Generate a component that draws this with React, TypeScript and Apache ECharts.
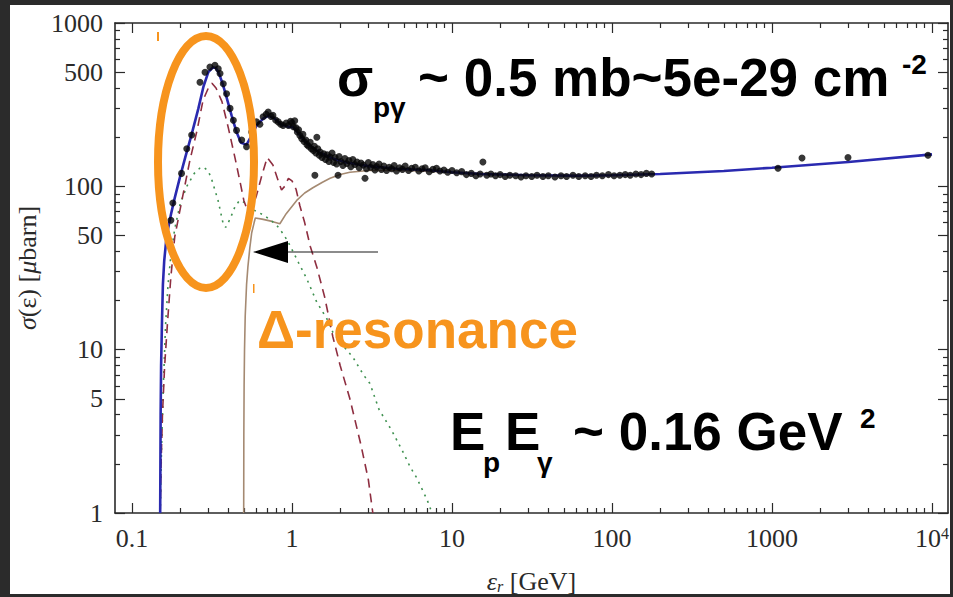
import React, { useEffect, useRef } from "react";
import * as echarts from "echarts";

// ---------- axis ticks / labels ----------
const xMajorTicks = [0.1, 1, 10, 100, 1000, 10000];
const xMinorTicks = [
  0.2, 0.3, 0.4, 0.5, 0.6, 0.7, 0.8, 0.9,
  2, 3, 4, 5, 6, 7, 8, 9,
  20, 30, 40, 50, 60, 70, 80, 90,
  200, 300, 400, 500, 600, 700, 800, 900,
  2000, 3000, 4000, 5000, 6000, 7000, 8000, 9000,
];
const yMajorTicks = [1, 5, 10, 50, 100, 500, 1000];
const yMinorTicks = [2, 3, 4, 6, 7, 8, 9, 20, 30, 40, 60, 70, 80, 90, 200, 300, 400, 600, 700, 800, 900];

// ---------- data: [energy GeV, sigma microbarn] ----------
const measuredPoints: [number, number][] = [
  [0.175, 62], [0.18, 79], [0.204, 120], [0.22, 170], [0.236, 206],
  [0.266, 434], [0.286, 500], [0.307, 537], [0.33, 551], [0.346, 524], [0.355, 491],
  [0.372, 425], [0.39, 369], [0.41, 300], [0.43, 254], [0.45, 220], [0.485, 192], [0.52, 175],
  [0.56, 215], [0.6, 248], [0.63, 240], [0.66, 267], [0.69, 276], [0.71, 285], [0.74, 268],
  [0.76, 272], [0.79, 255], [0.82, 248], [0.85, 240], [0.88, 236], [0.92, 244], [0.95, 236],
  [0.98, 250], [1.0, 245], [1.02, 232], [1.04, 252], [1.06, 228], [1.08, 215], [1.1, 222],
  [1.12, 205], [1.15, 196], [1.17, 208], [1.19, 188], [1.22, 192], [1.24, 180], [1.27, 176],
  [1.3, 186], [1.32, 170], [1.36, 166], [1.38, 176], [1.41, 160], [1.43, 200], [1.39, 117],
  [1.45, 170], [1.48, 155], [1.5, 162], [1.54, 150], [1.58, 158], [1.62, 146], [1.66, 156],
  [1.7, 142], [1.73, 151], [1.78, 160], [1.82, 140], [1.86, 150], [1.9, 137], [1.94, 117],
  [1.97, 152], [2.02, 142], [2.08, 134], [2.14, 148], [2.2, 138], [2.27, 144], [2.33, 132],
  [2.4, 146], [2.47, 136], [2.55, 141], [2.63, 130], [2.7, 139], [2.79, 135], [2.86, 112],
  [2.92, 128], [3.0, 140], [3.1, 131], [3.2, 136], [3.3, 126], [3.38, 132], [3.5, 137],
  [3.62, 127], [3.75, 133], [3.9, 125], [4.05, 131], [4.2, 128], [4.35, 134], [4.5, 124],
  [4.7, 130], [4.9, 127], [5.1, 133], [5.35, 125], [5.6, 129], [5.9, 131], [6.2, 124],
  [6.5, 128], [6.8, 130], [7.2, 123], [7.6, 127], [8.0, 129], [8.4, 124], [8.9, 126],
  [9.4, 122], [10.0, 125], [10.7, 121], [11.5, 123], [12.3, 118], [13.2, 120], [14.1, 116],
  [15.0, 119], [15.6, 141], [16.5, 117], [17.5, 119], [18.7, 116], [20, 118], [21.5, 115],
  [23, 117], [25, 116], [27, 114], [29, 116], [31.5, 115], [34, 117], [37, 115], [40, 116],
  [44, 114], [48, 116], [52, 115], [57, 117], [62, 115], [68, 116], [74, 115], [80, 117],
  [87, 116], [95, 118], [103, 116], [112, 117], [121, 118], [130, 117], [141, 119], [152, 118],
  [164, 120], [177, 119], [1090, 129], [1540, 149], [2985, 150], [9440, 155],
];

const totalFit: [number, number][] = [
  [0.15, 1], [0.1505, 2], [0.151, 4], [0.152, 8], [0.154, 15], [0.156, 25], [0.159, 35],
  [0.163, 45], [0.168, 55], [0.175, 67], [0.185, 85], [0.2, 115], [0.215, 150], [0.235, 205],
  [0.26, 300], [0.28, 410], [0.3, 500], [0.32, 535], [0.335, 530], [0.35, 490], [0.37, 420],
  [0.39, 350], [0.42, 270], [0.45, 215], [0.48, 185], [0.52, 180], [0.56, 205], [0.6, 235],
  [0.66, 260], [0.71, 270], [0.77, 262], [0.85, 240], [0.95, 232], [1.02, 230], [1.1, 210],
  [1.25, 182], [1.5, 160], [1.8, 148], [2.2, 140], [3, 133], [4.5, 128], [7, 126], [10, 122],
  [15, 119], [30, 117], [60, 116], [100, 117], [200, 119], [500, 124], [1000, 130],
  [3000, 141], [10000, 157],
];

const resonanceDashed: [number, number][] = [
  [0.15, 1], [0.152, 2], [0.155, 4], [0.16, 8], [0.167, 15], [0.175, 28], [0.185, 49],
  [0.205, 82], [0.23, 144], [0.255, 220], [0.278, 337], [0.3, 400], [0.316, 428], [0.335, 400],
  [0.365, 330], [0.4, 228], [0.44, 150], [0.475, 105], [0.5, 82], [0.53, 70], [0.56, 72],
  [0.6, 88], [0.65, 118], [0.7, 150], [0.76, 135], [0.82, 108], [0.86, 95], [0.9, 100],
  [0.95, 112], [1.0, 108], [1.06, 96], [1.12, 76], [1.2, 60], [1.3, 43], [1.43, 32],
  [1.6, 21], [1.8, 12], [2.0, 8], [2.3, 5], [2.7, 2.6], [3.0, 1.6], [3.2, 1],
];

const directDotted: [number, number][] = [
  [0.15, 1], [0.153, 2.5], [0.157, 6], [0.162, 14], [0.168, 25], [0.175, 38], [0.185, 55],
  [0.2, 78], [0.22, 100], [0.245, 120], [0.265, 129], [0.28, 131], [0.3, 124], [0.316, 109],
  [0.345, 82], [0.37, 60], [0.385, 56], [0.41, 63], [0.44, 75], [0.47, 82], [0.5, 80],
  [0.55, 74], [0.6, 70], [0.66, 67], [0.72, 63], [0.8, 58], [0.87, 52], [0.93, 47], [1.0, 41],
  [1.1, 34], [1.24, 27], [1.43, 19.5], [1.65, 15.5], [1.8, 12.8], [2.1, 10.5], [2.4, 9],
  [2.8, 7], [3.07, 6.2], [3.5, 4.3], [4.2, 3.2], [4.9, 2.4], [5.5, 1.9], [6.0, 1.65],
  [7.0, 1.2], [7.5, 1],
];

const multipionSolid: [number, number][] = [
  [0.499, 1], [0.5, 3], [0.502, 6], [0.505, 10], [0.51, 16], [0.52, 25], [0.53, 32],
  [0.545, 42], [0.56, 52], [0.58, 60], [0.59, 64], [0.65, 63], [0.75, 61], [0.84, 59],
  [0.92, 68], [1.07, 82], [1.2, 91], [1.35, 98], [1.55, 106], [1.73, 112], [2.0, 118],
  [2.3, 122], [3, 125], [5, 125], [10, 122], [30, 117], [100, 117], [200, 119],
];

const SERIF = '"Liberation Serif", "Times New Roman", serif';
const SANS = '"Liberation Sans", Arial, sans-serif';
const AXIS_COLOR = "#2a2a2a";
const ORANGE = "#F7941D";

function logAxis(extra: any) {
  return {
    type: "log",
    logBase: 10,
    gridIndex: 0,
    splitLine: { show: false },
    axisLine: { show: false, onZero: false, lineStyle: { color: AXIS_COLOR, width: 1.6 } },
    axisLabel: { show: false },
    ...extra,
  };
}

const X_MIN = 0.0783;
const X_MAX = 12590;

function tick(values: number[], len: number) {
  return { show: true, inside: true, length: len, customValues: values, lineStyle: { color: AXIS_COLOR, width: 1.2 } };
}

export default function App() {
  const ref = useRef<HTMLDivElement>(null);
  useEffect(() => {
    if (!ref.current) return;
    document.body.style.margin = "0";
    const chart = echarts.init(ref.current, null, { renderer: "svg" });

    const bigText = (text: string, x: number, y: number, size: number, color = "#000") => ({
      type: "text",
      z: 100,
      x,
      y,
      silent: true,
      style: {
        text,
        fill: color,
        fontSize: size,
        fontWeight: "bold",
        fontFamily: SANS,
        align: "left",
        verticalAlign: "middle",
      },
    });

    const option: any = {
      animation: false,
      backgroundColor: "#2b2b2b",
      grid: { left: 115, right: 5, top: 23, bottom: 84, containLabel: false, outerBoundsMode: "none" },
      xAxis: [
        logAxis({
          position: "bottom",
          min: X_MIN,
          max: X_MAX,
          axisLine: { show: true, onZero: false, lineStyle: { color: AXIS_COLOR, width: 1.6 } },
          axisTick: tick(xMajorTicks, 10),
          axisLabel: {
            show: true,
            customValues: xMajorTicks,
            margin: 12,
            color: AXIS_COLOR,
            fontFamily: SERIF,
            fontSize: 26,
            formatter: (v: number) => {
              const r = +Number(v).toPrecision(2);
              if (r >= 10000) return "{n|10}{s|4}";
              return String(r);
            },
            rich: {
              n: { fontFamily: SERIF, fontSize: 26, color: AXIS_COLOR },
              s: { fontFamily: SERIF, fontSize: 16, color: AXIS_COLOR, verticalAlign: "top" },
            },
          },
          name: "{it|ε}{sub|r} [GeV]",
          nameLocation: "middle",
          nameGap: 55,
          nameTextStyle: {
            color: AXIS_COLOR,
            fontFamily: SERIF,
            fontSize: 26,
            rich: {
              it: { fontFamily: SERIF, fontSize: 26, fontStyle: "italic", color: AXIS_COLOR },
              sub: { fontFamily: SERIF, fontSize: 16, fontStyle: "italic", color: AXIS_COLOR, verticalAlign: "bottom" },
            },
          },
        }),
        logAxis({ position: "bottom", min: X_MIN, max: X_MAX, axisTick: tick(xMinorTicks, 5) }),
        logAxis({
          position: "top",
          min: X_MIN,
          max: X_MAX,
          axisLine: { show: true, onZero: false, lineStyle: { color: AXIS_COLOR, width: 1.6 } },
          axisTick: tick(xMajorTicks, 10),
        }),
        logAxis({ position: "top", min: X_MIN, max: X_MAX, axisTick: tick(xMinorTicks, 5) }),
      ],
      yAxis: [
        logAxis({
          position: "left",
          min: 1,
          max: 1000,
          axisLine: { show: true, onZero: false, lineStyle: { color: AXIS_COLOR, width: 1.6 } },
          axisTick: tick(yMajorTicks, 10),
          axisLabel: {
            show: true,
            customValues: yMajorTicks,
            margin: 12,
            color: AXIS_COLOR,
            fontFamily: SERIF,
            fontSize: 26,
            formatter: (v: number) => String(Math.round(v)),
          },
          name: "{it|σ}(ε) [{it|μ}barn]",
          nameLocation: "middle",
          nameRotate: 90,
          nameGap: 72,
          nameTextStyle: {
            color: AXIS_COLOR,
            fontFamily: SERIF,
            fontSize: 26,
            rich: {
              it: { fontFamily: SERIF, fontSize: 26, fontStyle: "italic", color: AXIS_COLOR },
            },
          },
        }),
        logAxis({ position: "left", min: 1, max: 1000, axisTick: tick(yMinorTicks, 5) }),
        logAxis({
          position: "right",
          min: 1,
          max: 1000,
          axisLine: { show: true, onZero: false, lineStyle: { color: AXIS_COLOR, width: 1.6 } },
          axisTick: tick(yMajorTicks, 10),
        }),
        logAxis({ position: "right", min: 1, max: 1000, axisTick: tick(yMinorTicks, 5) }),
      ],
      series: [
        {
          type: "line",
          name: "multi-pion",
          data: multipionSolid,
          showSymbol: false,
          lineStyle: { color: "#a58a72", width: 1.6 },
          z: 2,
        },
        {
          type: "line",
          name: "direct",
          data: directDotted,
          showSymbol: false,
          lineStyle: { color: "#3f9150", width: 1.6, type: [2, 5] },
          z: 3,
        },
        {
          type: "line",
          name: "resonance",
          data: resonanceDashed,
          showSymbol: false,
          lineStyle: { color: "#8e2e40", width: 1.6, type: [9, 6] },
          z: 4,
        },
        {
          type: "line",
          name: "total",
          data: totalFit,
          showSymbol: false,
          lineStyle: { color: "#2a2ab0", width: 2.6 },
          z: 5,
        },
        {
          type: "scatter",
          name: "data",
          data: measuredPoints,
          symbolSize: 7,
          itemStyle: { color: "#050505" },
          z: 6,
        },
      ],
      graphic: [
        { type: "rect", z: -10, silent: true, shape: { x: 10, y: 5, width: 940, height: 589 }, style: { fill: "#ffffff" } },
        {
          type: "ellipse",
          z: 100,
          silent: true,
          shape: { cx: 206, cy: 162, rx: 48, ry: 126 },
          style: { fill: "transparent", stroke: ORANGE, lineWidth: 8 },
        },
        { type: "rect", z: 100, silent: true, shape: { x: 157, y: 32, width: 2, height: 9 }, style: { fill: ORANGE } },
        { type: "rect", z: 100, silent: true, shape: { x: 253, y: 284, width: 1.5, height: 9 }, style: { fill: ORANGE } },
        {
          type: "line",
          z: 100,
          silent: true,
          shape: { x1: 378, y1: 252, x2: 284, y2: 252 },
          style: { stroke: "#1a1a1a", lineWidth: 1.2 },
        },
        {
          type: "polygon",
          z: 100,
          silent: true,
          shape: { points: [[253, 252], [288, 241], [288, 263]] },
          style: { fill: "#000" },
        },
        bigText("σ", 337, 77, 53),
        bigText("pγ", 373, 107, 28),
        bigText("~ 0.5 mb~5e-29 cm", 418, 77, 53),
        bigText("-2", 902, 64, 28),
        bigText("Δ-resonance", 257, 329, 53, ORANGE),
        bigText("E", 450, 431, 53),
        bigText("p", 483, 462, 28),
        bigText("E", 505, 431, 53),
        bigText("γ", 537, 462, 28),
        bigText("~ 0.16 GeV", 573, 431, 53),
        bigText("2", 860, 418, 28),
      ],
    };

    chart.setOption(option);
    return () => chart.dispose();
  }, []);

  return <div ref={ref} style={{ position: "fixed", left: 0, top: 0, width: 953, height: 597 }} />;
}
